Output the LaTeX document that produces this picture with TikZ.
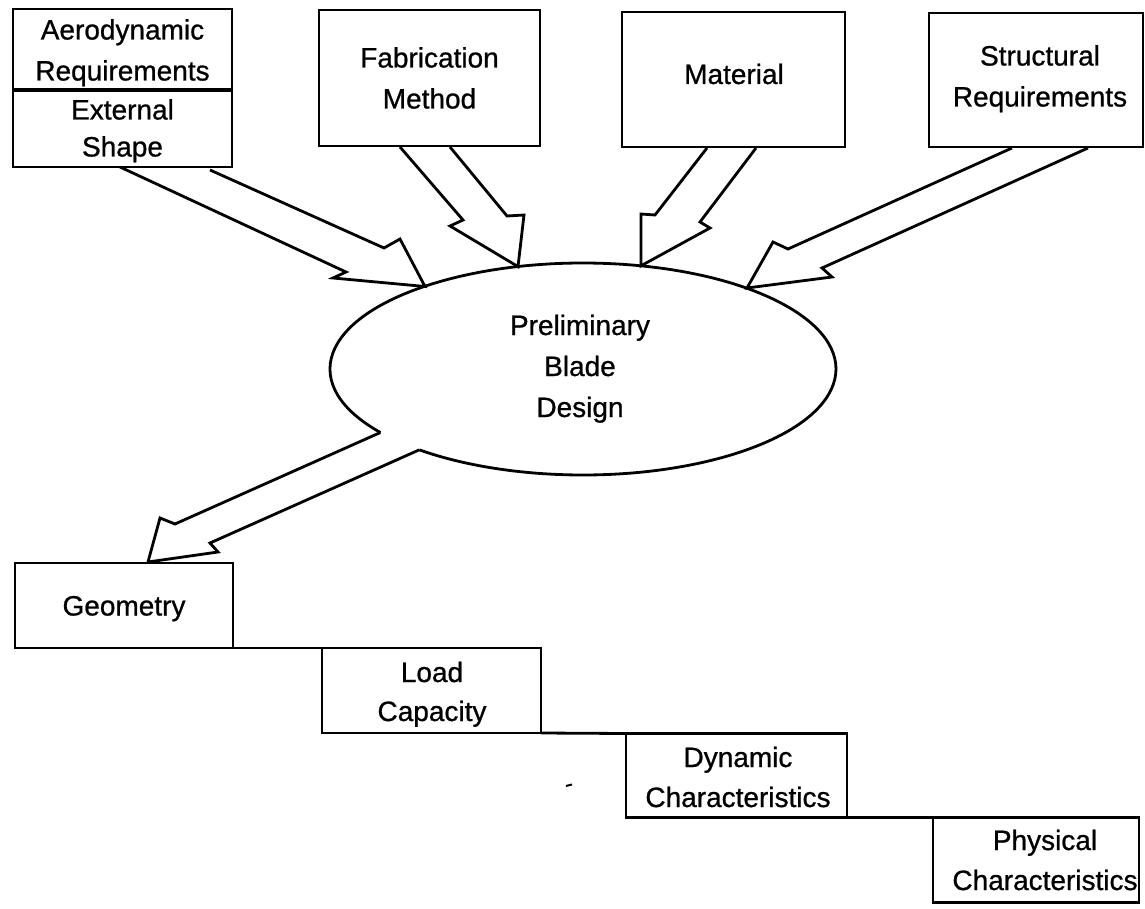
\documentclass[tikz,border=0pt]{standalone}
\usepackage{fontspec}
\setmainfont[FakeBold=0.8]{Liberation Sans}
\newcommand\lstrut{\rule[-10.5pt]{0pt}{41pt}}
\newcommand\labelsize{\fontsize{28}{41}\selectfont}

\begin{document}
\begin{tikzpicture}[x=1pt,y=-1pt,
  line width=2.8pt, line join=miter,
  box/.style={draw, rectangle, inner sep=0pt, outer sep=0pt, align=center, font=\labelsize},
  label text/.style={inner sep=0pt, align=center, font=\labelsize},
  blockarrow/.style={draw, line join=miter, miter limit=6},
]
\useasboundingbox (0,0) rectangle (1145,909);

% ---- input boxes along the top
\node[box, minimum width=219pt, minimum height=80pt] (aero) at (122.5,50)
  {\lstrut Aerodynamic\\\lstrut Requirements};
\node[box, minimum width=219pt, minimum height=76pt] (ext) at (122.5,128)
  {\lstrut External\\[-4pt]\lstrut Shape};
\node[box, minimum width=221pt, minimum height=136pt] (fab) at (429.5,78)
  {\lstrut Fabrication\\\lstrut Method};
\node[box, minimum width=223pt, minimum height=135pt] (mat) at (733.5,79.5) {};
\node[label text] (matl) at (734,74) {\lstrut Material};
\node[box, minimum width=214pt, minimum height=134pt] (str) at (1036,80) {};
\node[label text] (strl) at (1040,76) {\lstrut Structural\\\lstrut Requirements};

% ---- central design ellipse (outline opens into the output arrow)
\node[label text] (pbd) at (580,366)
  {\lstrut Preliminary\\\lstrut Blade\\\lstrut Design};
\coordinate (ejL) at (380.4,432.5);
\coordinate (ejR) at (419.4,449.8);
\draw (ejL) arc[start angle=143.2, end angle=490.3, x radius=253, y radius=106];

% ---- result boxes, stepping down to the right
\node[box, minimum width=218pt, minimum height=85pt] (geo) at (124,605.5)
  {\lstrut Geometry};
\node[box, minimum width=219pt, minimum height=85pt] (load) at (431.5,690.5) {};
\node[label text] (loadl) at (432,691.5) {\lstrut Load\\[-2pt]\lstrut Capacity};
\node[box, minimum width=221pt, minimum height=84pt] (dyn) at (736.5,775.5) {};
\node[label text] (dynl) at (738,777) {\lstrut Dynamic\\[-1pt]\lstrut Characteristics};
\node[box, minimum width=206pt, minimum height=85pt] (phys) at (1036,860) {};
\node[label text] (physl) at (1045,860) {\lstrut Physical\\[-1pt]\lstrut Characteristics};

\draw (geo.south east) -- (load.north west);
\draw (load.south east) -- (dyn.north west);
\draw (dyn.south east) -- (phys.north west);

% ---- block arrows into the ellipse
\coordinate (t1) at (425,286.5);
\coordinate (t2) at (518,266.6);
\coordinate (t3) at (641,265.8);
\coordinate (t4) at (747,288);
\draw[blockarrow] (120,167) -- (346,272) -- (333,278) -- (t1)
  -- (400,239) -- (384,248) -- (210,170);
\draw[blockarrow] (400,147) -- (463,220) -- (450,226) -- (t2)
  -- (524,215) -- (507,216) -- (450,147);
\draw[blockarrow] (707,148) -- (655,215) -- (641,214) -- (t3)
  -- (710,228) -- (700,222) -- (756,148);
\draw[blockarrow] (1012,148) -- (788,249) -- (773,242) -- (t4)
  -- (832,277) -- (822,268) -- (1088,148);

% ---- block arrow out of the ellipse to the geometry box
\coordinate (t5) at (148,562);
\draw[blockarrow] (ejL) -- (175,524) -- (160,518) -- (t5)
  -- (218,552) -- (210,543) -- (ejR);

% small stray mark
\draw[line width=2pt] (566,786) -- (572,784.5);
\end{tikzpicture}
\end{document}
